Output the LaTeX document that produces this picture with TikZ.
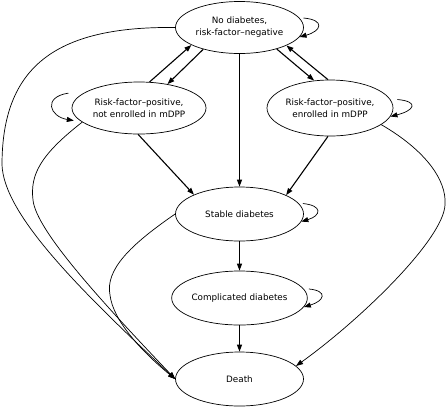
\documentclass[tikz,border=0pt]{standalone}
\usepackage{fontspec}
\setmainfont{DejaVu Sans}
\usetikzlibrary{arrows.meta,shapes.geometric}
\begin{document}
\begin{tikzpicture}[x=1pt,y=-1pt,
  st/.style={draw, ellipse, line width=0.7pt, inner sep=0pt, align=center, font=\fontsize{8.8}{12}\selectfont},
  sa/.style={line width=1.1pt, -{Triangle[length=7pt,width=5pt]}},
  ca/.style={line width=0.7pt, -{Triangle[length=7pt,width=5pt]}}]
\useasboundingbox (0,0) rectangle (446,408);
\node[st, minimum width=128pt, minimum height=52pt] (top) at (239.5,27.5) {No diabetes,\\risk-factor–negative};
\node[st, minimum width=134pt, minimum height=52pt] (left) at (139,108) {Risk-factor–positive,\\not enrolled in mDPP};
\node[st, minimum width=126pt, minimum height=56pt] (right) at (330,108) {Risk-factor–positive,\\enrolled in mDPP};
\node[st, minimum width=128pt, minimum height=54pt] (stable) at (239.5,214) {Stable diabetes};
\node[st, minimum width=126pt, minimum height=54pt] (comp) at (239.5,298) {Complicated diabetes};
\node[st, minimum width=128pt, minimum height=54pt] (death) at (239.5,379) {Death};
% straight arrows
\draw[sa] (left.68) -- (top.200);
\draw[sa] (top.211) -- (left.40);
\draw[sa] (top.330) -- (right.120);
\draw[sa] (right.94) -- (top.339);
\draw[sa] (top.south) -- (stable.north);
\draw[sa] (left.268) -- (stable.157);
\draw[sa] (right.266) -- (stable.22);
\draw[sa] (stable.south) -- (comp.north);
\draw[sa] (comp.south) -- (death.north);
% curves to death
\draw[ca] (top.west) .. controls (54,26) and (2,68) .. (2,165) .. controls (4,215) and (80,290) .. (death.west);
\draw[ca] (left.194) .. controls (40,155) and (30,175) .. (33,200) .. controls (36,230) and (100,300) .. (death.west);
\draw[ca] (stable.west) .. controls (130,245) and (105,270) .. (110,295) .. controls (113,320) and (140,350) .. (death.west);
\draw[ca] (right.342) .. controls (425,150) and (447,180) .. (445,205) .. controls (443,240) and (360,320) .. (death.13);
% self loops
\draw[ca] ([xshift=4pt]top.9) .. controls +(22,2) and +(22,-6) .. (top.-9);
\draw[ca] ([xshift=7pt]right.8) .. controls +(22,2) and +(24,-6) .. (right.-8);
\draw[ca] ([xshift=-15pt]left.165) .. controls +(-26,4) and +(-24,-4) .. ([xshift=-6pt]left.192);
\draw[ca] ([xshift=4pt]stable.10) .. controls +(20,2) and +(20,-6) .. (stable.-7);
\draw[ca] ([xshift=5pt]comp.8) .. controls +(20,2) and +(20,-6) .. (comp.-8);
\end{tikzpicture}
\end{document}
